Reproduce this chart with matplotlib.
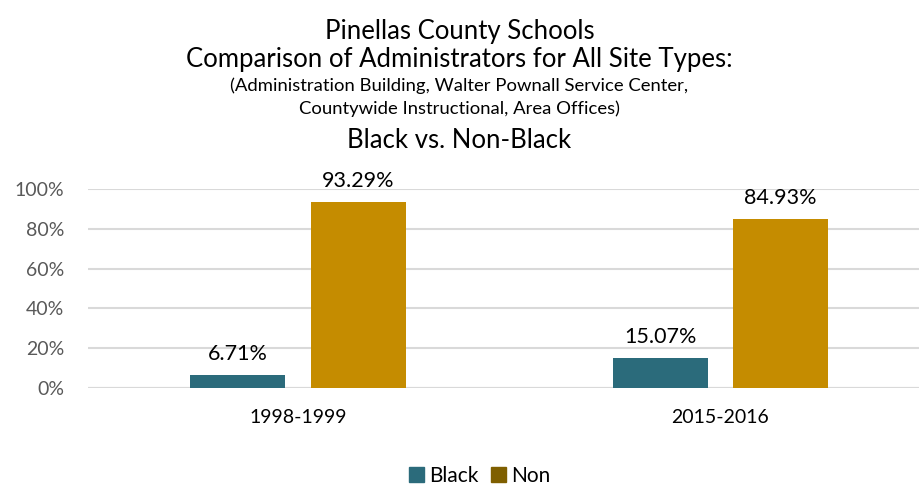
import matplotlib
matplotlib.use("Agg")
import matplotlib.pyplot as plt
from matplotlib.patches import Patch
import numpy as np

plt.rcParams['font.family'] = ['Lato', 'DejaVu Sans']

# data
years = ["1998-1999", "2015-2016"]
black = [6.71, 15.07]
non_black = [93.29, 84.93]
yticks = [0, 20, 40, 60, 80, 100]

C_BLACK = "#2B6B7B"
C_NON = "#C58C00"
C_NON_LEG = "#7F5F00"

fig = plt.figure(figsize=(9.19, 4.86), dpi=100)
ax = fig.add_axes([88 / 919, (486 - 388) / 486, (919 - 88) / 919, 199 / 486])

x = np.arange(len(years))
w = 0.225
off = 0.1425
b1 = ax.bar(x - off, black, w, color=C_BLACK, zorder=3)
b2 = ax.bar(x + off, non_black, w, color=C_NON, zorder=3)

for bars, vals in ((b1, black), (b2, non_black)):
    for r, v in zip(bars, vals):
        ax.text(r.get_x() + r.get_width() / 2, v + 5.5, f"{v:.2f}%",
                ha="center", va="bottom", fontsize=15.5, color="black", clip_on=False)

ax.set_xlim(-0.497, 1.470)
ax.set_ylim(0, 100)
ax.set_yticks(yticks)
ax.set_yticklabels([f"{t}%" for t in yticks])
ax.set_xticks(x)
ax.set_xticklabels(years)
ax.tick_params(axis="y", length=0, labelsize=14, labelcolor="#595959", pad=17)
ax.tick_params(axis="x", length=0, labelsize=14, labelcolor="black", pad=15)
ax.yaxis.grid(True, color="#D9D9D9", linewidth=1.5, zorder=0)
for s in ax.spines.values():
    s.set_visible(False)
ax.axhline(0, color="#D9D9D9", linewidth=1.5, zorder=1)

# title block
fig.text(0.5, 1 - 31 / 486, "Pinellas County Schools", ha="center", va="center", fontsize=18.5)
fig.text(0.5, 1 - 59 / 486, "Comparison of Administrators for All Site Types:", ha="center", va="center", fontsize=18.5)
fig.text(0.5, 1 - 86 / 486, "(Administration Building, Walter Pownall Service Center,", ha="center", va="center", fontsize=13.3)
fig.text(0.5, 1 - 109 / 486, "Countywide Instructional, Area Offices)", ha="center", va="center", fontsize=13.3)
fig.text(0.5, 1 - 140 / 486, "Black vs. Non-Black", ha="center", va="center", fontsize=18.5)

handles = [Patch(color=C_BLACK, label="Black"), Patch(color=C_NON_LEG, label="Non")]
fig.legend(handles=handles, loc="center", bbox_to_anchor=(0.522, 1 - 476 / 486), ncol=2,
           frameon=False, fontsize=15, handlelength=0.7, handleheight=0.7,
           handletextpad=0.25, columnspacing=0.6)

fig.savefig("out.png", dpi=100)
